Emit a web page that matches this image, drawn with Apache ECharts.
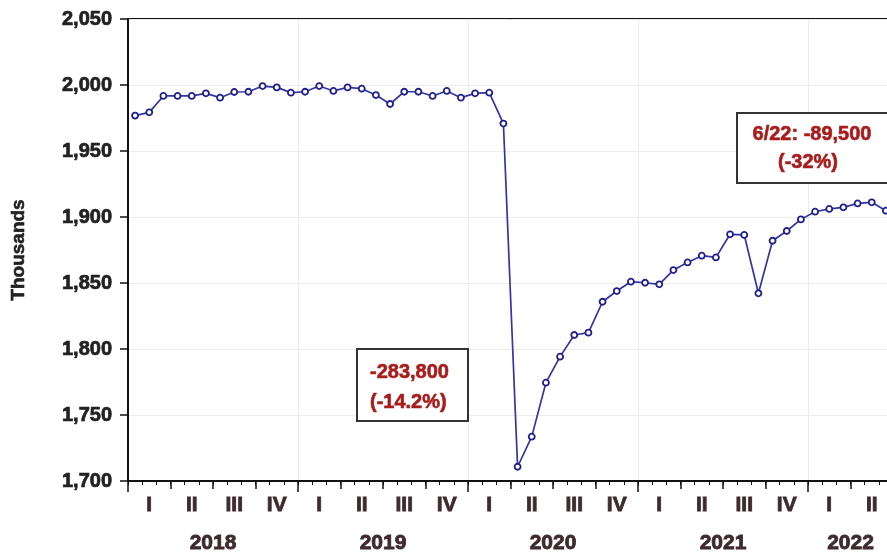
<!DOCTYPE html>
<html>
<head>
<meta charset="utf-8">
<script src="https://cdn.jsdelivr.net/npm/echarts@6/dist/echarts.min.js"></script>
<style>
html,body{margin:0;padding:0;background:#fff;overflow:hidden;}
#chart{width:900px;height:557px;}
</style>
</head>
<body>
<div id="chart"></div>
<script>
// Months Jan 2018 .. Jun 2022
var years = ['2018', '2019', '2020', '2021', '2022'];
var monthsPerYear = [12, 12, 12, 12, 6];
var quarterLabels = ['I', 'II', 'III', 'IV'];
var yTicks = [1700, 1750, 1800, 1850, 1900, 1950, 2000, 2050];

var values2018 = [1976.8, 1979.3, 1991.7, 1991.7, 1991.7, 1993.7, 1990.4, 1994.7, 1994.9, 1999.2, 1998.2, 1994.2];
var values2019 = [1994.9, 1999.2, 1995.5, 1998.2, 1997.2, 1992.4, 1985.6, 1994.9, 1994.9, 1991.7, 1995.5, 1990.4];
var values2020 = [1993.7, 1994.2, 1970.8, 1710.8, 1733.6, 1774.5, 1794.2, 1810.6, 1812.4, 1835.8, 1843.9, 1851.0];
var values2021 = [1850.2, 1849.0, 1859.8, 1865.6, 1870.7, 1869.4, 1886.9, 1886.4, 1842.2, 1882.0, 1889.4, 1898.2];
var values2022 = [1904.0, 1906.1, 1907.3, 1910.3, 1911.1, 1904.8];

var note1Lines = ['-283,800', '(-14.2%)'];
var note2Lines = ['6/22: -89,500', '(-32%)'];

var values = [].concat(values2018, values2019, values2020, values2021, values2022);
var categories = [];
years.forEach(function (y, i) {
  for (var m = 1; m <= monthsPerYear[i]; m++) categories.push(m + '/' + y);
});
var nMonths = categories.length;

// label positions (in month units) for quarters and years
var quarterAt = {};
var yearAt = {};
var start = 0;
years.forEach(function (y, i) {
  var n = monthsPerYear[i];
  for (var q = 0; q < n / 3; q++) quarterAt[(start + q * 3 + 1.5).toFixed(1)] = quarterLabels[q];
  yearAt[(start + n / 2).toFixed(1)] = y;
  start += n;
});

var FONT = '"Liberation Sans", Arial, sans-serif';
var TXT = '#3d2b2f';
var RED = '#a81c1c';

var chart = echarts.init(document.getElementById('chart'));
chart.setOption({
  animation: false,
  grid: { left: 128, right: 7, top: 19, bottom: 76, show: true, borderColor: '#111', borderWidth: 2, backgroundColor: 'transparent' },
  xAxis: [
    {
      type: 'category', data: categories, boundaryGap: true,
      axisLine: { show: true, lineStyle: { color: '#111', width: 2 } },
      axisTick: { show: true, interval: 0, length: 4, lineStyle: { color: '#111', width: 1 } },
      axisLabel: { show: false },
      splitLine: { show: true, interval: function (i) { return i % 12 === 0 && i > 0; }, lineStyle: { color: '#ececec', width: 1 } }
    },
    {
      type: 'value', min: 0, max: nMonths, interval: 3, position: 'bottom',
      axisLine: { show: false }, axisTick: { show: true, length: 8, lineStyle: { color: '#111', width: 1.5 } },
      axisLabel: { show: false }, splitLine: { show: false }
    },
    {
      type: 'value', min: 0, max: nMonths, interval: 12, position: 'bottom',
      axisLine: { show: false }, axisTick: { show: true, length: 11, lineStyle: { color: '#111', width: 1.5 } },
      axisLabel: { show: false }, splitLine: { show: false }
    },
    {
      type: 'value', min: 0, max: nMonths, interval: 1.5, position: 'bottom',
      axisLine: { show: false }, axisTick: { show: false }, splitLine: { show: false },
      axisLabel: {
        show: true, margin: 14, fontFamily: FONT, fontWeight: 'bold', fontSize: 21, color: TXT,
        textBorderColor: TXT, textBorderWidth: 0.8,
        formatter: function (v) { return quarterAt[v.toFixed(1)] || ''; }
      }
    },
    {
      type: 'value', min: 0, max: nMonths, interval: 1.5, position: 'bottom',
      axisLine: { show: false }, axisTick: { show: false }, splitLine: { show: false },
      axisLabel: {
        show: true, margin: 52, fontFamily: FONT, fontWeight: 'bold', fontSize: 21, color: TXT,
        textBorderColor: TXT, textBorderWidth: 0.8,
        formatter: function (v) { return yearAt[v.toFixed(1)] || ''; }
      }
    }
  ],
  yAxis: {
    type: 'value', min: yTicks[0], max: yTicks[yTicks.length - 1], interval: yTicks[1] - yTicks[0],
    name: 'Thousands', nameLocation: 'middle', nameGap: 100, nameRotate: 90,
    nameTextStyle: { fontFamily: FONT, fontWeight: 'bold', fontSize: 19, color: '#222', textBorderColor: '#222', textBorderWidth: 0.6 },
    axisLine: { show: true, lineStyle: { color: '#111', width: 2 } },
    axisTick: { show: true, length: 8, lineStyle: { color: '#111', width: 1.5 } },
    axisLabel: {
      margin: 16, fontFamily: FONT, fontWeight: 'bold', fontSize: 20, color: '#222',
      textBorderColor: '#222', textBorderWidth: 0.7,
      formatter: function (v) { return v.toLocaleString('en-US'); }
    },
    splitLine: { show: true, lineStyle: { color: '#ececec', width: 1 } }
  },
  series: [{
    type: 'line', xAxisIndex: 0, data: values,
    symbol: 'circle', symbolSize: 6, showAllSymbol: true,
    lineStyle: { color: '#3434a4', width: 1.7 },
    itemStyle: { color: '#ffffff', borderColor: '#20208a', borderWidth: 1.8 },
    z: 5
  }],
  graphic: [
    { type: 'rect', shape: { x: 357, y: 349, width: 111, height: 72 }, style: { fill: '#fff', stroke: '#333', lineWidth: 2 }, z: 10 },
    { type: 'text', x: 370, y: 372, style: { text: note1Lines[0], fill: RED, stroke: RED, lineWidth: 0.6, font: 'bold 20px ' + FONT, textAlign: 'left', textVerticalAlign: 'middle' }, z: 11 },
    { type: 'text', x: 370, y: 402, style: { text: note1Lines[1], fill: RED, stroke: RED, lineWidth: 0.6, font: 'bold 20px ' + FONT, textAlign: 'left', textVerticalAlign: 'middle' }, z: 11 },
    { type: 'rect', shape: { x: 737, y: 113, width: 160, height: 70 }, style: { fill: '#fff', stroke: '#333', lineWidth: 2 }, z: 10 },
    { type: 'text', x: 812, y: 134, style: { text: note2Lines[0], fill: RED, stroke: RED, lineWidth: 0.6, font: 'bold 20px ' + FONT, textAlign: 'center', textVerticalAlign: 'middle' }, z: 11 },
    { type: 'text', x: 808, y: 162, style: { text: note2Lines[1], fill: RED, stroke: RED, lineWidth: 0.6, font: 'bold 20px ' + FONT, textAlign: 'center', textVerticalAlign: 'middle' }, z: 11 }
  ]
});
</script>
</body>
</html>
